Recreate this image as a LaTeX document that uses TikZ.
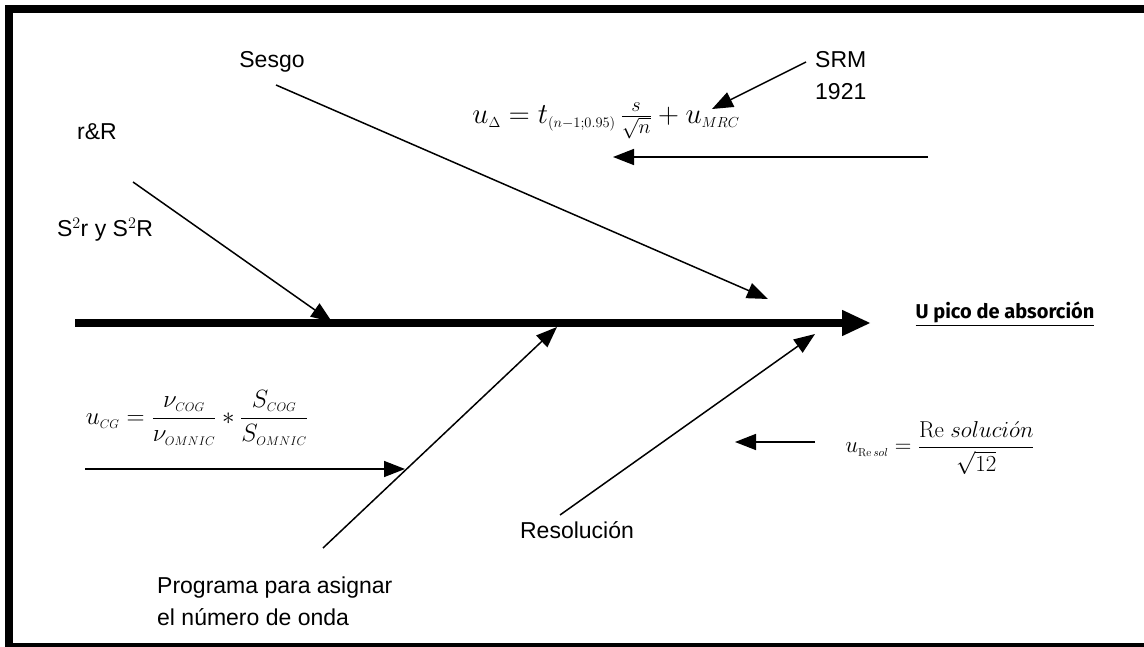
\RequirePackage{fix-cm}
\documentclass[tikz,border=0pt]{standalone}
\usepackage{amsmath}
\usepackage{fontspec}
\setmainfont{Liberation Sans}
\setmathrm{Latin Modern Roman}
\newfontfamily\effectfont{Fira Sans}
\usetikzlibrary{arrows.meta}
\tikzset{
  spine/.style={line width=8pt,-{Triangle[length=29pt,width=24pt]}},
  bone/.style={line width=1.5pt,-{Triangle[length=21pt,width=16pt]}},
  lbl/.style={font=\fontsize{23}{32}\selectfont,inner sep=0pt},
  eq/.style={font=\fontsize{22}{26}\selectfont,inner sep=0pt},
  effect/.style={font=\effectfont\bfseries\fontsize{20}{24}\selectfont,inner sep=0pt}
}
\newcommand{\sss}{\scriptscriptstyle}

\begin{document}
\begin{tikzpicture}[x=1pt,y=-1pt]
  \useasboundingbox (0,0) rectangle (1144,647);
  \draw[line width=8pt] (9,647) -- (9,9) -- (1160,9);
  \draw[line width=8pt] (9,647) -- (1160,647);

  % spine
  \coordinate (tail) at (75,323);
  \coordinate (head) at (871,323);
  \draw[spine] (tail) -- (head);
  \node[effect] (upico) at (1005,314) {\underline{U pico de absorción}};

  % upper causes
  \node[lbl] (rR) at (97,132) {r\&R};
  \node[lbl] (srR) at (105,230) {S$^2$r y S$^2$R};
  \coordinate (rRa) at (133,182);
  \coordinate (rRb) at (332,322);
  \draw[bone] (rRa) -- (rRb);

  \node[lbl] (sesgo) at (272,62) {Sesgo};
  \coordinate (sesgoa) at (276,85);
  \coordinate (sesgob) at (768,299);
  \draw[bone] (sesgoa) -- (sesgob);

  \node[lbl,align=left,anchor=west] (srm) at (815,76) {SRM\\1921};
  \coordinate (srma) at (806,62);
  \coordinate (srmb) at (712,109);
  \draw[bone] (srma) -- (srmb);
  \node[eq,font=\fontsize{29}{32}\selectfont] (udelta) at (606,121)
    {$u_{\sss\Delta} = t_{\sss(n-1;0.95)}\,\frac{s}{\sqrt{n}} + u_{\sss MRC}$};
  \coordinate (mrca) at (928,157);
  \coordinate (mrcb) at (613,157);
  \draw[bone] (mrca) -- (mrcb);

  % lower causes
  \node[eq,font=\fontsize{25}{28}\selectfont] (ucg) at (197,418)
    {$u_{\sss CG} = \dfrac{\nu_{\sss COG}}{\nu_{\sss OMNIC}} * \dfrac{S_{\sss COG}}{S_{\sss OMNIC}}$};
  \coordinate (cga) at (85,469);
  \coordinate (cgb) at (405,469);
  \draw[bone] (cga) -- (cgb);

  \node[lbl,align=left,anchor=north west] (prog) at (157,577)
    {Programa para asignar\\el número de onda};
  \coordinate (proga) at (323,548);
  \coordinate (progb) at (557,327);
  \draw[bone] (proga) -- (progb);

  \node[lbl] (resol) at (577,530) {Resolución};
  \coordinate (resola) at (560,515);
  \coordinate (resolb) at (815,334);
  \draw[bone] (resola) -- (resolb);

  \node[eq,font=\fontsize{23}{26}\selectfont] (uresol) at (940,448)
    {$u_{\sss\mathrm{Re}\,sol} = \dfrac{\mathrm{Re}\;soluci\acute{o}n}{\sqrt{12}}$};
  \coordinate (rsa) at (815,442);
  \coordinate (rsb) at (735,442);
  \draw[bone] (rsa) -- (rsb);
\end{tikzpicture}
\end{document}
